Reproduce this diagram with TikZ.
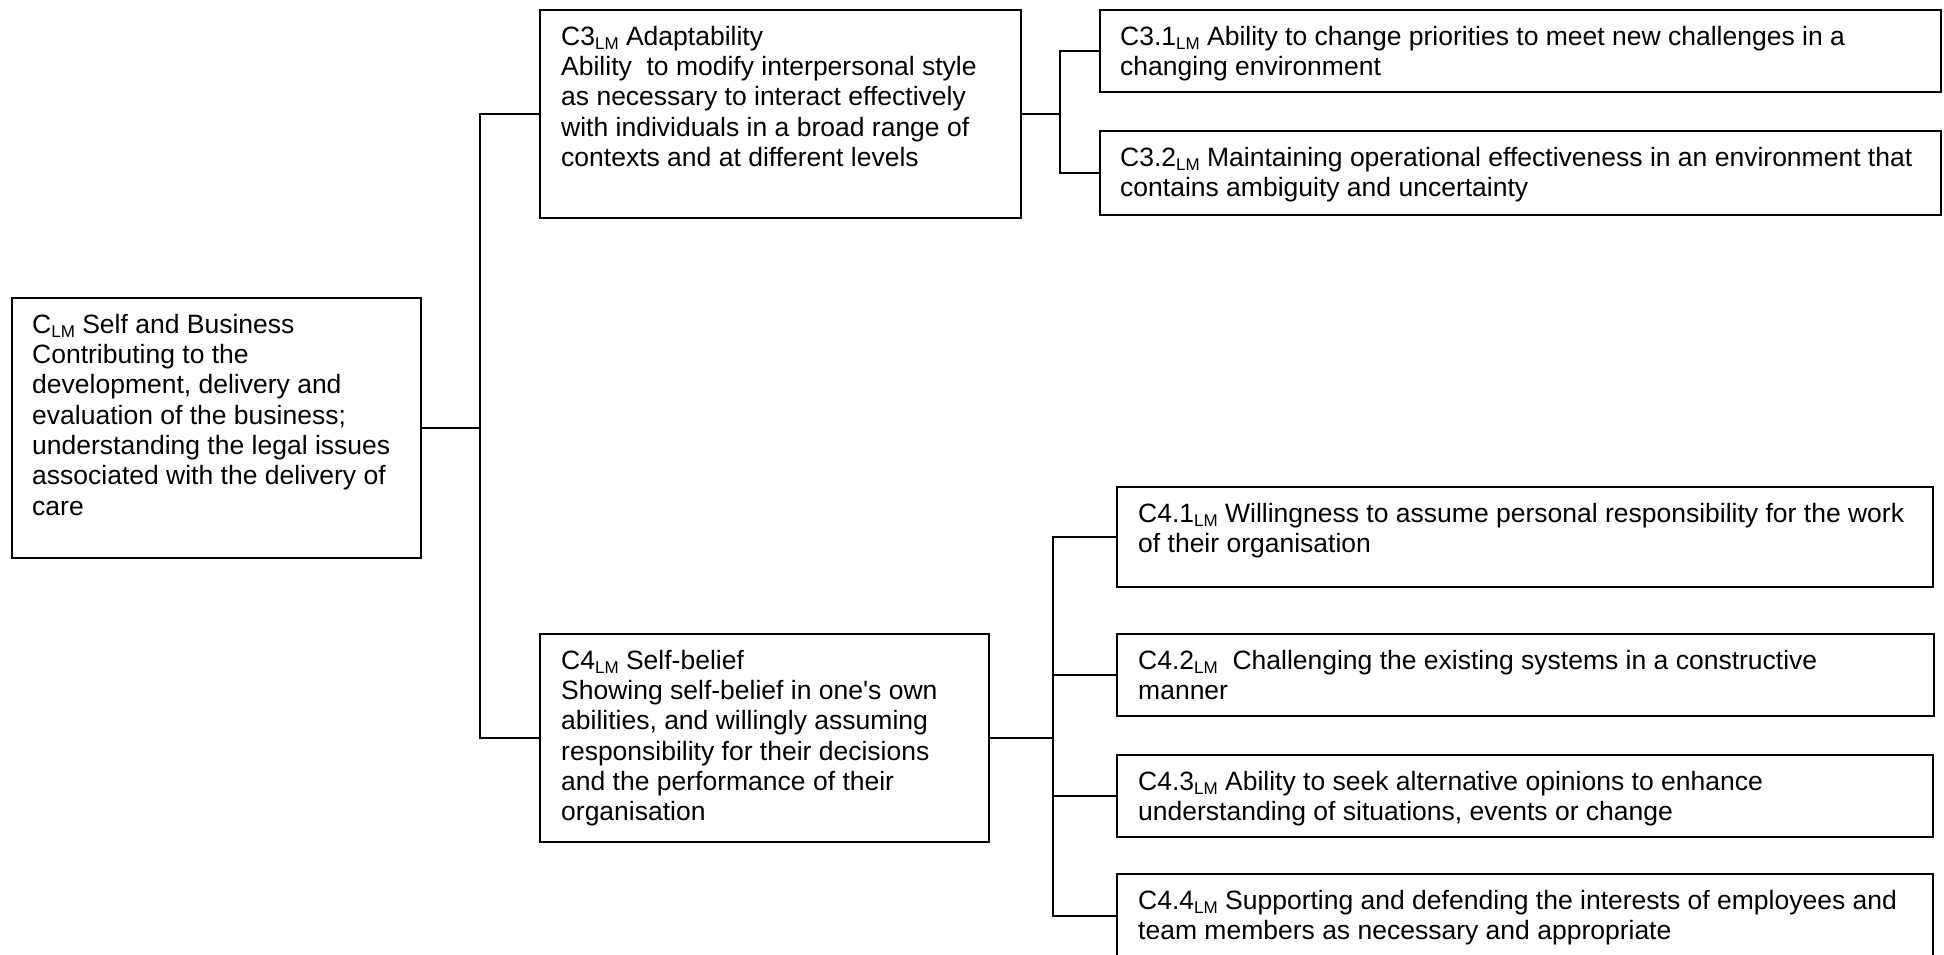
\documentclass[tikz,border=0pt]{standalone}
\usepackage{fontspec}
\setmainfont{Liberation Sans}[Ligatures=TeXOff]
\newcommand\lmsub{\raisebox{-0.18em}{\fontsize{17}{17}\selectfont LM}}
\newcommand\fl{\rule{0pt}{20pt}}
\begin{document}
\begin{tikzpicture}[x=1pt,y=-1pt,
  box/.style={draw, line width=1.8pt, inner sep=0pt, outer sep=0pt},
  txt/.style={anchor=north west, inner sep=0pt, align=left, font=\fontsize{26.5}{30.3}\selectfont},
  conn/.style={line width=1.8pt, line join=miter}]
\useasboundingbox (0,0) rectangle (1944,954);
% boxes
\node[box, minimum width=409pt, minimum height=260pt] (root) at (216.5,428) {};
\node[box, minimum width=481pt, minimum height=208pt] (c3) at (780.5,114) {};
\node[box, minimum width=449pt, minimum height=208pt] (c4) at (764.5,738) {};
\node[box, minimum width=841pt, minimum height=82pt] (c31) at (1520.5,51) {};
\node[box, minimum width=841pt, minimum height=84pt] (c32) at (1520.5,173) {};
\node[box, minimum width=816pt, minimum height=100pt] (c41) at (1525,537) {};
\node[box, minimum width=817pt, minimum height=82pt] (c42) at (1525.5,675) {};
\node[box, minimum width=816pt, minimum height=82pt] (c43) at (1525,796) {};
\node[box, minimum width=816pt, minimum height=84pt] (c44) at (1525,916) {};
% texts
\node[txt] (roott) at ([xshift=20pt,yshift=-15pt]root.north west) {\fl C\lmsub{} Self and Business\\Contributing to the\\development, delivery and\\evaluation of the business;\\understanding the legal issues\\associated with the delivery of\\care};
\node[txt] (c3t) at ([xshift=21pt,yshift=-15pt]c3.north west) {\fl C3\lmsub{} Adaptability\\Ability\ \ to modify interpersonal style\\as necessary to interact effectively\\with individuals in a broad range of\\contexts and at different levels};
\node[txt] (c4t) at ([xshift=21pt,yshift=-15pt]c4.north west) {\fl C4\lmsub{} Self-belief\\Showing self-belief in one's own\\abilities, and willingly assuming\\responsibility for their decisions\\and the performance of their\\organisation};
\node[txt] (c31t) at ([xshift=20pt,yshift=-15pt]c31.north west) {\fl C3.1\lmsub{} Ability to change priorities to meet new challenges in a\\changing environment};
\node[txt] (c32t) at ([xshift=20pt,yshift=-15pt]c32.north west) {\fl C3.2\lmsub{} Maintaining operational effectiveness in an environment that\\contains ambiguity and uncertainty};
\node[txt] (c41t) at ([xshift=21pt,yshift=-15pt]c41.north west) {\fl C4.1\lmsub{} Willingness to assume personal responsibility for the work\\of their organisation};
\node[txt] (c42t) at ([xshift=21pt,yshift=-15pt]c42.north west) {\fl C4.2\lmsub{}\ \ Challenging the existing systems in a constructive\\manner};
\node[txt] (c43t) at ([xshift=21pt,yshift=-15pt]c43.north west) {\fl C4.3\lmsub{} Ability to seek alternative opinions to enhance\\understanding of situations, events or change};
\node[txt] (c44t) at ([xshift=21pt,yshift=-15pt]c44.north west) {\fl C4.4\lmsub{} Supporting and defending the interests of employees and\\team members as necessary and appropriate};
% connectors
\coordinate (trunk) at (480,0);
\coordinate (v3) at (1060,0);
\coordinate (v4) at (1053,0);
\draw[conn] (root.east) -- (root.east -| trunk);
\draw[conn] (c3.west) -- (c3.west -| trunk) -- (c4.west -| trunk) -- (c4.west);
\draw[conn] (c3.east) -- (c3.east -| v3);
\draw[conn] (c31.west) -- (c31.west -| v3) -- (c32.west -| v3) -- (c32.west);
\draw[conn, line width=2.4pt] (c4.east) -- (c4.east -| v4);
\draw[conn] (c41.west) -- (c41.west -| v4) -- (c44.west -| v4) -- (c44.west);
\draw[conn] (c42.west -| v4) -- (c42.west);
\draw[conn] (c43.west -| v4) -- (c43.west);
\end{tikzpicture}
\end{document}
